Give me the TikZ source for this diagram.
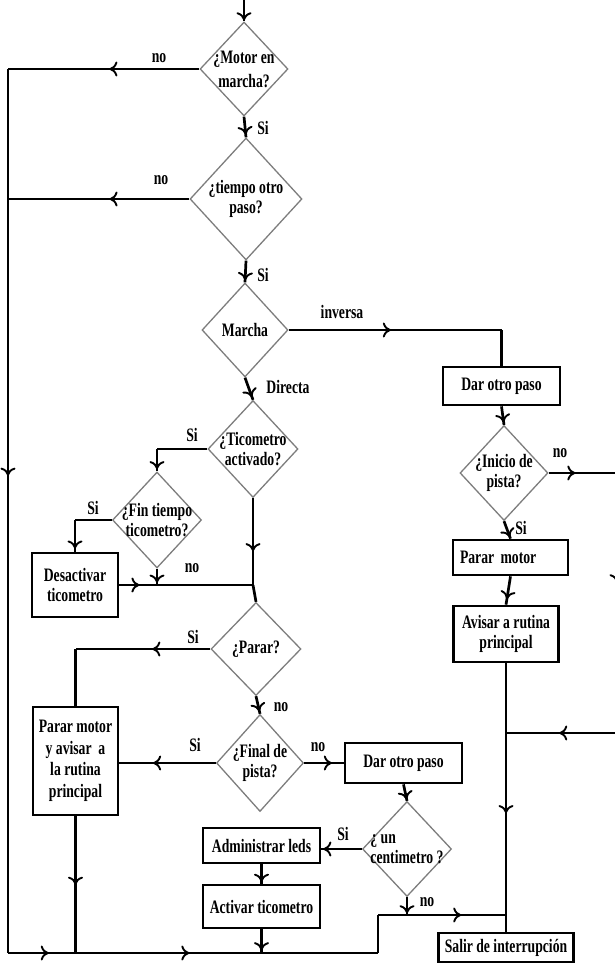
\documentclass[tikz,border=0pt]{standalone}
\usepackage{fontspec}
\setmainfont{Liberation Serif}[FakeStretch=0.72]
\usetikzlibrary{shapes.geometric,arrows.meta,decorations.markings}
\definecolor{dgray}{RGB}{125,125,125}
\tikzset{
  txt/.style={font=\bfseries\fontsize{19}{20}\selectfont, align=center, inner sep=0pt},
  dec/.style={diamond, draw=dgray, line width=1.3pt, inner sep=0pt},
  dlab/.style={txt},
  box/.style={rectangle, draw=black, line width=2.7pt, inner sep=2pt, txt},
  conn/.style={draw=black, line width=2.7pt},
  ar/.style={postaction={decorate,decoration={markings,mark=at position #1 with {\arrow{Computer Modern Rightarrow[length=8pt,width=15pt,line width=1.9pt]}}}}},
}
\begin{document}
\begin{tikzpicture}[x=1pt,y=-1pt]
\useasboundingbox (0,0) rectangle (614,965);

% decisions
\node[dec, minimum width=88pt, minimum height=94pt,
  label={[dlab,font=\bfseries\fontsize{19}{24}\selectfont]center:{¿Motor en\\marcha?}}] (d1) at (244,69) {};
\node[dec, minimum width=112pt, minimum height=122pt,
  label={[dlab]center:{¿tiempo otro\\paso?}}] (d2) at (246,199) {};
\node[dec, minimum width=86pt, minimum height=94pt,
  label={[dlab]center:{Marcha}}] (d3) at (245,330) {};
\node[dec, minimum width=90pt, minimum height=97pt,
  label={[dlab]center:{¿Ticometro\\activado?}}] (d4) at (253,449) {};
\node[dec, minimum width=89pt, minimum height=96pt,
  label={[dlab]center:{¿Fin tiempo\\ticometro?}}] (d5) at (157,520) {};
\node[dec, minimum width=90pt, minimum height=93pt,
  label={[dlab]center:{¿Parar?}}] (d6) at (256,649) {};
\node[dec, minimum width=87pt, minimum height=97pt,
  label={[dlab]center:{¿Final de\\pista?}}] (d7) at (260,763) {};
\node[dec, minimum width=89pt, minimum height=95pt,
  label={[dlab,align=left]center:{¿ un\\centimetro ?}}] (d8) at (407,849) {};
\node[dec, minimum width=88pt, minimum height=95pt,
  label={[dlab]center:{¿Inicio de\\pista?}}] (d9) at (504,473) {};

% boxes
\node[box, minimum width=117pt, minimum height=38pt] (b1) at (501.5,386) {Dar otro paso};
\node[box, minimum width=86pt, minimum height=64pt] (b2) at (75,585) {Desactivar\\ticometro};
\node[box, minimum width=85pt, minimum height=108pt, font=\bfseries\fontsize{19}{21.5}\selectfont] (b3) at (75.5,761) {Parar motor\\y avisar\ \ a\\la rutina\\principal};
\node[box, minimum width=117pt, minimum height=40pt] (b4) at (403.5,763) {Dar otro paso};
\node[box, minimum width=117pt, minimum height=35pt] (b5) at (261.5,845.5) {Administrar leds};
\node[box, minimum width=117pt, minimum height=43pt] (b6) at (261.5,906.5) {Activar ticometro};
\node[box, minimum width=115pt, minimum height=35pt, text width=101pt, inner xsep=7pt, align=left] (b7) at (510.5,557.5) {Parar motor};
\node[box, minimum width=105pt, minimum height=56pt] (b8) at (506,634) {Avisar a rutina\\principal};
\node[box, minimum width=135pt, minimum height=29pt] (b9) at (506,947.5) {Salir de interrupción};

% coordinates
\coordinate (T0) at (244,0);
\coordinate (L1) at (d1.west -| 8,0);
\coordinate (L2) at (d2.west -| 8,0);
\coordinate (Lb) at (8,953);
\coordinate (J1) at (b1.north |- d3.east);
\coordinate (c4) at (d5.north |- d4.west);
\coordinate (c5) at (b2.north |- d5.west);
\coordinate (J2) at (d4.south |- b2.east);
\coordinate (c6) at (b3.north |- d6.west);
\coordinate (C1) at (378,953);
\coordinate (C2) at (378,915);
\coordinate (J3) at (b9.north |- C2);
\coordinate (R1) at (617,473);
\coordinate (R2) at (617,733);
\coordinate (J4) at (b8.south |- R2);

% connectors, left main column
\draw[conn, ar=0.95] (T0) -- (d1.north);
\draw[conn, ar=0.47] (d1.west) -- (L1);
\draw[conn, ar=0.44] (d2.west) -- (L2);
\draw[conn, ar=0.46] (L1) -- (Lb);
\draw[conn, ar=0.86] (d1.south) -- (d2.north);
\draw[conn, ar=0.9] (d2.south) -- (d3.north);
\draw[conn, ar=0.87] (d3.south) -- (d4.north);
\draw[conn] (d4.west) -- (c4);
\draw[conn, ar=0.9] (c4) -- (d5.north);
\draw[conn] (d5.west) -- (c5);
\draw[conn, ar=0.9] (c5) -- (b2.north);
\draw[conn, ar=0.15] (b2.east) -- (J2);
\draw[conn, ar=0.85] (d5.south) -- (d5.south |- b2.east);
\draw[conn, ar=0.61] (d4.south) -- (J2);
\draw[conn] (J2) -- (d6.north);
\draw[conn, ar=0.43] (d6.west) -- (c6);
\draw[conn] (c6) -- (b3.north);
\draw[conn, ar=0.85] (d6.south) -- (d7.north);
\draw[conn, ar=0.65] (d7.west) -- (b3.east |- d7.west);
\draw[conn, ar=0.7] (d7.east) -- (b4.west |- d7.east);
\draw[conn, ar=0.9] (b4.south) -- (d8.north);
\draw[conn, ar=0.95] (d8.west) -- (b5.east |- d8.west);
\draw[conn, ar=0.9] (b5.south) -- (b6.north);
\draw[conn, ar=0.88] (b6.south) -- (b6.south |- Lb);
\draw[conn, ar=0.5] (b3.south) -- (b3.south |- Lb);
\draw[conn, ar=0.11, ar=0.49] (Lb) -- (C1);
\draw[conn] (C1) -- (C2);
\draw[conn, ar=0.65] (C2) -- (J3);
\draw[conn, ar=0.9] (d8.south) -- (d8.south |- C2);

% right column
\draw[conn, ar=0.48] (d3.east) -- (J1);
\draw[conn] (J1) -- (b1.north);
\draw[conn, ar=0.85] (b1.south) -- (d9.north);
\draw[conn, ar=0.9] (d9.south) -- (b7.north);
\draw[conn, ar=0.8] (b7.south) -- (b8.north);
\draw[conn, ar=0.39] (d9.east) -- (R1);
\draw[conn, ar=0.42] (R1) -- (R2);
\draw[conn, ar=0.52] (R2) -- (J4);
\draw[conn] (b8.south) -- (J4);
\draw[conn, ar=0.44] (J4) -- (J3);
\draw[conn] (J3) -- (b9.north);

% branch labels
\node[txt] (lno1) at (159,58) {no};
\node[txt] (lsi1) at (263,128) {Si};
\node[txt] (lno2) at (161,180) {no};
\node[txt] (lsi2) at (263,275) {Si};
\node[txt] (linv) at (342,312) {inversa};
\node[txt] (ldir) at (288,387) {Directa};
\node[txt] (lsi3) at (192,435) {Si};
\node[txt] (lsi4) at (93,508) {Si};
\node[txt] (lno3) at (192,568) {no};
\node[txt] (lsi5) at (193,637) {Si};
\node[txt] (lno4) at (281,707) {no};
\node[txt] (lsi6) at (195,745) {Si};
\node[txt] (lno5) at (318,747) {no};
\node[txt] (lsi7) at (343,834) {Si};
\node[txt] (lno6) at (427,902) {no};
\node[txt] (lno7) at (560,453) {no};
\node[txt] (lsi8) at (521,528) {Si};
\end{tikzpicture}
\end{document}
